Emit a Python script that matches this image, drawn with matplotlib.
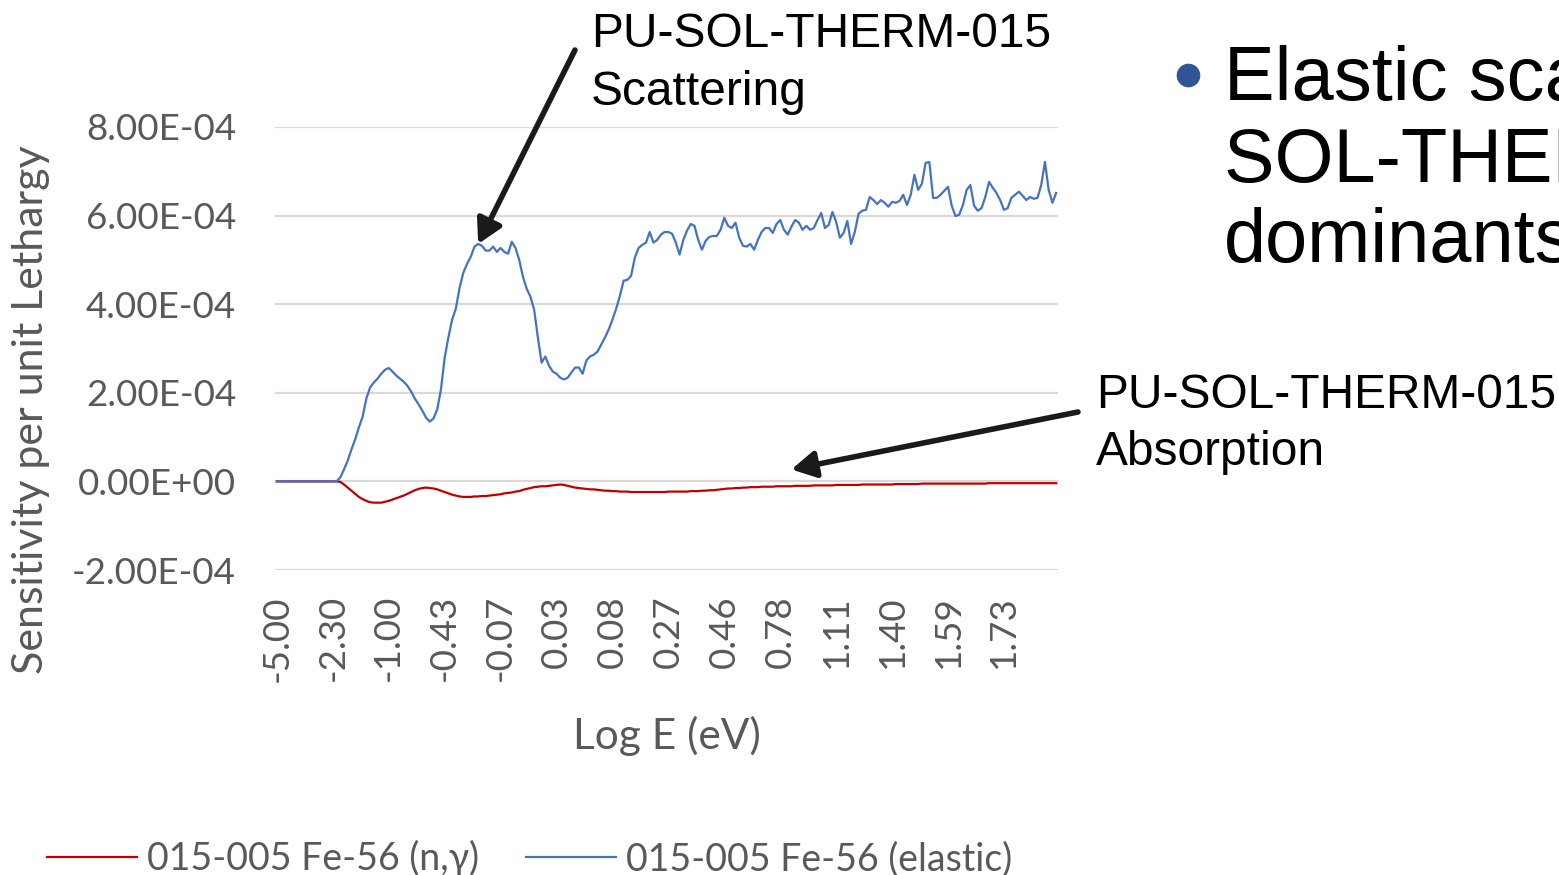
import matplotlib
matplotlib.use("Agg")
import matplotlib.pyplot as plt
from matplotlib.lines import Line2D
from matplotlib.ticker import FuncFormatter

# Sensitivity per unit lethargy, in units of 1e-4, one value per energy group
ELASTIC = [
    0.0, 0.0, 0.0, 0.0, 0.0, 0.0, 0.0, 0.0, 0.0, 0.0, 0.0, 0.0, 0.0, 0.0, 0.0, 0.0, 0.0,
    0.09, 0.27, 0.47, 0.72, 0.95, 1.22, 1.46, 1.87, 2.12, 2.23,
    2.32, 2.43, 2.52, 2.56, 2.48, 2.39, 2.32, 2.25, 2.16, 2.03,
    1.87, 1.74, 1.60, 1.44, 1.35, 1.42, 1.62, 2.07, 2.79, 3.25,
    3.65, 3.90, 4.37, 4.71, 4.91, 5.07, 5.30, 5.36, 5.32, 5.21,
    5.21, 5.30, 5.18, 5.27, 5.18, 5.14, 5.41, 5.27, 5.00, 4.62,
    4.35, 4.17, 3.88, 3.25, 2.68, 2.82, 2.61, 2.48, 2.43, 2.34,
    2.30, 2.34, 2.46, 2.57, 2.57, 2.43, 2.73, 2.82, 2.86, 2.93,
    3.09, 3.25, 3.43, 3.65, 3.90, 4.19, 4.53, 4.55, 4.64, 5.05,
    5.27, 5.34, 5.39, 5.63, 5.39, 5.45, 5.57, 5.63, 5.63, 5.59,
    5.39, 5.12, 5.45, 5.66, 5.81, 5.77, 5.45, 5.23, 5.43, 5.52,
    5.54, 5.54, 5.68, 5.95, 5.77, 5.72, 5.84, 5.50, 5.32, 5.30,
    5.36, 5.23, 5.45, 5.63, 5.72, 5.72, 5.61, 5.81, 5.90, 5.68,
    5.57, 5.75, 5.90, 5.84, 5.68, 5.77, 5.68, 5.72, 5.90, 6.06,
    5.72, 5.79, 6.08, 5.86, 5.50, 5.61, 5.88, 5.36, 5.63, 6.04,
    6.11, 6.13, 6.42, 6.35, 6.26, 6.35, 6.29, 6.20, 6.31, 6.29,
    6.33, 6.47, 6.24, 6.47, 6.92, 6.58, 6.72, 7.19, 7.21, 6.40,
    6.40, 6.47, 6.56, 6.65, 6.22, 5.99, 6.02, 6.24, 6.58, 6.69,
    6.22, 6.11, 6.17, 6.42, 6.76, 6.63, 6.51, 6.35, 6.13, 6.17,
    6.40, 6.47, 6.54, 6.45, 6.35, 6.42, 6.38, 6.40, 6.69, 7.21,
    6.58, 6.29, 6.51,
]

CAPTURE = [
    0.0, 0.0, 0.0, 0.0, 0.0, 0.0, 0.0, 0.0, 0.0, 0.0, 0.0, 0.0, 0.0, 0.0, 0.0, 0.0, 0.0,
    -0.01,
    -0.07, -0.14, -0.21, -0.28, -0.35, -0.40, -0.44, -0.47, -0.48, -0.48,
    -0.48, -0.46, -0.44, -0.41, -0.38, -0.35, -0.32, -0.28, -0.24, -0.20,
    -0.17, -0.15, -0.14, -0.15, -0.16, -0.18, -0.21, -0.24, -0.27, -0.30,
    -0.32, -0.34, -0.35, -0.35, -0.35, -0.34, -0.34, -0.33, -0.33, -0.32,
    -0.31, -0.30, -0.29, -0.27, -0.26, -0.25, -0.23, -0.22, -0.19, -0.17,
    -0.15, -0.13, -0.12, -0.11, -0.11, -0.10, -0.09, -0.08, -0.07, -0.08,
    -0.10, -0.12, -0.14, -0.15, -0.16, -0.17, -0.18, -0.18, -0.19, -0.20,
    -0.21, -0.21, -0.22, -0.22, -0.23, -0.23, -0.23, -0.24, -0.24, -0.24,
    -0.24, -0.24, -0.24, -0.24, -0.24, -0.24, -0.24, -0.23, -0.23, -0.23,
    -0.23, -0.23, -0.23, -0.22, -0.22, -0.22, -0.21, -0.21, -0.20, -0.20,
    -0.19, -0.18, -0.17, -0.16, -0.16, -0.15, -0.15, -0.14, -0.14, -0.13,
    -0.13, -0.13, -0.12, -0.12, -0.12, -0.12, -0.11, -0.11, -0.11, -0.11,
    -0.11, -0.10, -0.10, -0.10, -0.10, -0.10, -0.09, -0.09, -0.09, -0.09,
    -0.09, -0.09, -0.08, -0.08, -0.08, -0.08, -0.08, -0.08, -0.08, -0.07,
    -0.07, -0.07, -0.07, -0.07, -0.07, -0.07, -0.07, -0.07, -0.06, -0.06,
    -0.06, -0.06, -0.06, -0.06, -0.06, -0.05, -0.05, -0.05, -0.05, -0.05,
    -0.05, -0.05, -0.05, -0.05, -0.05, -0.05, -0.05, -0.05, -0.05, -0.05,
    -0.05, -0.05, -0.05, -0.04, -0.04, -0.04, -0.04, -0.04, -0.04, -0.04,
    -0.04, -0.04, -0.04, -0.04, -0.04, -0.04, -0.04, -0.04, -0.04, -0.04,
    -0.04, -0.04,
]

# Excel shows every 15th category label
TICK_LABELS = ["-5.00", "-2.30", "-1.00", "-0.43", "-0.07", "0.03", "0.08",
               "0.27", "0.46", "0.78", "1.11", "1.40", "1.59", "1.73"]
TICK_STEP = 15

SERIES_NAMES = ["015-005 Fe-56 (n,\u03b3)", "015-005 Fe-56 (elastic)"]

CHART_FONT = ["Lato", "DejaVu Sans"]
SLIDE_FONT = ["Liberation Sans", "DejaVu Sans"]
GREY = "#595959"

fig = plt.figure(figsize=(15.59, 8.75), dpi=100)
ax = fig.add_axes([275 / 1559, 305 / 875, 783 / 1559, 443 / 875])

x = list(range(len(ELASTIC)))
ax.plot(x, [v * 1e-4 for v in CAPTURE], color="#C00000", lw=1.6, label=SERIES_NAMES[0])
ax.plot(x, [v * 1e-4 for v in ELASTIC], color="#4472C4", lw=1.6, label=SERIES_NAMES[1])

ax.set_xlim(-0.5, len(ELASTIC) - 0.5)
ax.set_ylim(-2e-4, 8e-4)
ax.set_yticks([-2e-4, 0, 2e-4, 4e-4, 6e-4, 8e-4])
ax.yaxis.set_major_formatter(FuncFormatter(lambda v, _: f"{v:.2E}"))
ax.set_xticks([i * TICK_STEP for i in range(len(TICK_LABELS))])
ax.set_xticklabels(TICK_LABELS, rotation=90)

for s in ax.spines.values():
    s.set_visible(False)
ax.grid(axis="y", color="#d9d9d9", lw=1.6)
ax.set_axisbelow(True)
ax.tick_params(axis="both", length=0, labelsize=26.5, labelcolor=GREY)
ax.tick_params(axis="y", pad=28)
ax.tick_params(axis="x", pad=18)
for lab in ax.get_xticklabels() + ax.get_yticklabels():
    lab.set_family(CHART_FONT)

ax.set_xlabel("Log E (eV)", fontsize=30.5, color=GREY, family=CHART_FONT)
ax.xaxis.set_label_coords(0.5, -0.33)
ax.set_ylabel("Sensitivity per unit Lethargy", fontsize=31, color=GREY, family=CHART_FONT)
ax.yaxis.set_label_coords(-0.287, 0.361)

fig.legend(loc="lower left", bbox_to_anchor=(13 / 1559, -36 / 875), ncol=2, frameon=False,
           prop={"family": CHART_FONT, "size": 27}, labelcolor=GREY,
           handlelength=2.4, handletextpad=0.27, columnspacing=1.25)

# slide annotations
fig.text(591 / 1559, 828 / 875, "PU-SOL-THERM-015", fontsize=34.5, family=SLIDE_FONT, va="baseline")
fig.text(591 / 1559, 770 / 875, "Scattering", fontsize=34.5, family=SLIDE_FONT, va="baseline")
fig.text(1096 / 1559, 467 / 875, "PU-SOL-THERM-015", fontsize=34.5, family=SLIDE_FONT, va="baseline")
fig.text(1096 / 1559, 410 / 875, "Absorption", fontsize=34.5, family=SLIDE_FONT, va="baseline")

arrow = dict(arrowstyle="-|>,head_length=0.9,head_width=0.5", lw=4, color="#1a1a1a",
             shrinkA=0, shrinkB=0, mutation_scale=16)
ax.annotate("", xy=(54, 5.36e-4), xycoords="data",
            xytext=(575, 825), textcoords="figure pixels", arrowprops=arrow)
ax.annotate("", xy=(138, 0.27e-4), xycoords="data",
            xytext=(1078, 463), textcoords="figure pixels", arrowprops=arrow)

# bullet text runs past the right edge of the slide crop, as in the source
bullet_lines = ["Elastic scattering in PU-", "SOL-THERM-015 is", "dominants"]
for line, ybase in zip(bullet_lines, [775, 693, 613]):
    fig.text(1224 / 1559, ybase / 875, line, fontsize=54.5, family=SLIDE_FONT, va="baseline")
fig.add_artist(Line2D([1188 / 1559], [800 / 875], marker="o", ms=16, color="#2F5597",
                      transform=fig.transFigure))

fig.savefig("out.png", dpi=100)
